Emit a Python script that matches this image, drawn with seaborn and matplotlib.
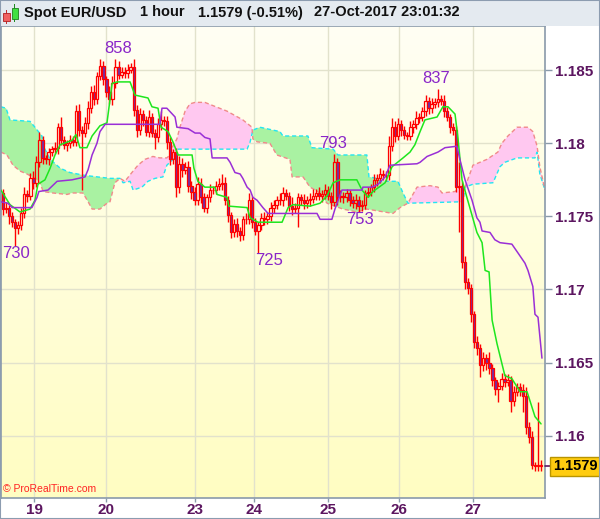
import numpy as np
import matplotlib
matplotlib.use('Agg')
import matplotlib.pyplot as plt
from matplotlib.patches import Rectangle
from matplotlib.colors import LinearSegmentedColormap
from matplotlib.transforms import blended_transform_factory
import seaborn as sns

sns.set_theme(style='white')
plt.rcParams['font.family'] = ['Liberation Sans', 'DejaVu Sans']

# hourly candles, EUR/USD (close prices)
first_open = 1.1766
closes = [
    1.1755, 1.1756, 1.1750, 1.1746, 1.1742, 1.1744, 1.1752, 1.1765, 1.1764, 1.1776,
    1.1773, 1.1787, 1.1802, 1.1790, 1.1789, 1.1794, 1.1796, 1.1797, 1.1811, 1.1802,
    1.1799, 1.1800, 1.1802, 1.1801, 1.1822, 1.1809, 1.1807, 1.1814, 1.1824, 1.1835,
    1.1830, 1.1846, 1.1853, 1.1844, 1.1835, 1.1830, 1.1841, 1.1852, 1.1847, 1.1849,
    1.1848, 1.1850, 1.1852, 1.1823, 1.1809, 1.1820, 1.1816, 1.1808, 1.1818, 1.1807,
    1.1804, 1.1813, 1.1816, 1.1815, 1.1801, 1.1789, 1.1794, 1.1770, 1.1786, 1.1782,
    1.1784, 1.1771, 1.1767, 1.1761, 1.1772, 1.1763, 1.1756, 1.1763, 1.1768, 1.1768,
    1.1771, 1.1772, 1.1773, 1.1761, 1.1751, 1.1739, 1.1745, 1.1740, 1.1737, 1.1748,
    1.1748, 1.1761, 1.1746, 1.1740, 1.1744, 1.1749, 1.1748, 1.1750, 1.1756, 1.1758,
    1.1761, 1.1761, 1.1766, 1.1764, 1.1757, 1.1755, 1.1756, 1.1763, 1.1761, 1.1759,
    1.1761, 1.1762, 1.1764, 1.1766, 1.1764, 1.1765, 1.1768, 1.1764, 1.1760, 1.1787,
    1.1763, 1.1764, 1.1763, 1.1766, 1.1761, 1.1759, 1.1761, 1.1757, 1.1758, 1.1766,
    1.1767, 1.1770, 1.1775, 1.1776, 1.1779, 1.1778, 1.1778, 1.1798, 1.1811, 1.1805,
    1.1813, 1.1809, 1.1806, 1.1805, 1.1811, 1.1813, 1.1817, 1.1818, 1.1822, 1.1829,
    1.1824, 1.1827, 1.1828, 1.1830, 1.1829, 1.1822, 1.1818, 1.1811, 1.1809, 1.1770,
    1.1771, 1.1719, 1.1705, 1.1701, 1.1683, 1.1664, 1.1660, 1.1648, 1.1653, 1.1650,
    1.1646, 1.1638, 1.1632, 1.1634, 1.1639, 1.1637, 1.1638, 1.1624, 1.1630, 1.1633,
    1.1631, 1.1627, 1.1606, 1.1599, 1.1580, 1.1579, 1.1580, 1.1579,
]
# wick lengths above / below the body, in pips
wick_up = [
    3, 4, 2, 3, 2, 3, 4, 5, 3, 4,
    5, 4, 6, 3, 2, 3, 2, 4, 3, 7,
    3, 2, 4, 3, 4, 5, 3, 4, 5, 4,
    5, 3, 5, 3, 2, 4, 5, 6, 4, 3,
    3, 4, 3, 6, 3, 4, 3, 3, 5, 3,
    3, 4, 6, 3, 4, 3, 2, 3, 5, 4,
    3, 4, 3, 3, 5, 4, 3, 2, 4, 3,
    3, 4, 6, 4, 3, 2, 3, 4, 3, 2,
    4, 5, 3, 3, 2, 3, 4, 3, 4, 3,
    3, 5, 4, 3, 3, 6, 3, 3, 2, 4,
    3, 4, 5, 3, 4, 3, 4, 3, 3, 6,
    3, 4, 3, 3, 2, 3, 4, 3, 3, 2,
    3, 2, 4, 3, 4, 3, 3, 7, 6, 4,
    4, 3, 3, 2, 4, 3, 5, 3, 3, 4,
    3, 4, 3, 7, 3, 4, 3, 2, 3, 3,
    16, 3, 4, 3, 3, 2, 4, 3, 4, 3,
    7, 3, 2, 3, 4, 3, 4, 3, 4, 3,
    3, 4, 6, 3, 4, 2, 43, 3,
]
wick_dn = [
    4, 3, 5, 3, 12, 4, 3, 3, 4, 3,
    4, 3, 3, 4, 3, 4, 3, 3, 4, 3,
    3, 4, 3, 3, 3, 4, 39, 3, 4, 3,
    4, 3, 3, 4, 3, 3, 4, 3, 3, 2,
    3, 3, 2, 4, 5, 3, 4, 3, 4, 3,
    8, 3, 4, 3, 5, 4, 3, 7, 4, 5,
    3, 4, 5, 3, 3, 4, 3, 4, 3, 3,
    3, 3, 4, 3, 5, 4, 3, 4, 4, 3,
    3, 3, 4, 3, 15, 3, 4, 3, 3, 4,
    3, 3, 4, 3, 3, 4, 3, 13, 3, 4,
    3, 4, 3, 3, 3, 4, 3, 3, 5, 3,
    5, 3, 4, 3, 4, 3, 4, 4, 3, 3,
    3, 3, 3, 4, 3, 3, 4, 3, 3, 4,
    3, 4, 3, 3, 3, 4, 3, 3, 3, 3,
    4, 3, 3, 3, 3, 4, 3, 4, 3, 3,
    31, 4, 5, 4, 5, 4, 5, 8, 4, 5,
    4, 4, 4, 9, 3, 4, 3, 8, 4, 3,
    4, 11, 5, 4, 3, 3, 3, 3,
]

# Ichimoku lines (bar index, price)
tenkan_idx = [-0.7, 2.3, 5.6, 8.9, 10.5, 11.5, 13.8, 15.5, 17.1, 18.8, 22.7, 24.0, 25.3,
              27.6, 29.3, 31.9, 34.2, 35.9, 37.5, 41.8, 43.4, 47.7, 49.0, 51.0, 52.0,
              54.3, 55.9, 57.6, 62.2, 62.8, 64.1, 66.4, 69.7, 70.4, 73.7, 74.3, 80.3,
              81.3, 83.9, 91.8, 93.8, 95.4, 101.0, 104.3, 106.6, 108.6, 110.9, 116.4,
              118.1, 120.1, 121.7, 125.7, 128.0, 131.6, 133.9, 135.5, 137.2, 138.8,
              142.8, 144.7, 146.4, 148.7, 149.7, 151.0, 152.6, 155.9, 157.6, 158.6,
              159.9, 160.9, 162.5, 165.1, 167.4, 170.1, 172.4, 175.0, 177.0]
tenkan_px = [1.1768, 1.1758, 1.1753, 1.1755, 1.1761, 1.1772, 1.1775, 1.1783, 1.1792,
             1.1799, 1.1802, 1.1806, 1.1797, 1.1797, 1.1805, 1.1812, 1.1814, 1.1841,
             1.1842, 1.1842, 1.1833, 1.1831, 1.1825, 1.1824, 1.1811, 1.1808, 1.1801,
             1.1792, 1.1792, 1.1783, 1.1774, 1.1770, 1.1770, 1.1765, 1.1763, 1.1757,
             1.1756, 1.1749, 1.1746, 1.1746, 1.1756, 1.1758, 1.1757, 1.1759, 1.1764,
             1.1773, 1.1775, 1.1775, 1.1768, 1.1763, 1.1767, 1.1773, 1.1784, 1.1790,
             1.1794, 1.1799, 1.1808, 1.1816, 1.1818, 1.1825, 1.1825, 1.1820, 1.1803,
             1.1775, 1.1763, 1.1739, 1.1732, 1.1713, 1.1712, 1.1679, 1.1663, 1.1641,
             1.1639, 1.1630, 1.1630, 1.1613, 1.1608]
kijun_idx = [-0.7, 1.6, 3.0, 9.5, 11.2, 11.8, 14.8, 17.8, 22.7, 27.0, 28.0, 29.3, 30.9,
             31.9, 33.6, 51.6, 52.3, 53.9, 56.6, 57.2, 60.9, 63.2, 64.8, 66.4, 68.1,
             68.8, 73.7, 74.7, 76.3, 78.0, 78.9, 80.3, 81.3, 82.2, 83.6, 85.5, 87.2,
             103.3, 104.3, 108.2, 109.2, 111.5, 118.1, 118.4, 121.4, 123.4, 125.7,
             127.3, 136.2, 137.2, 139.5, 143.1, 145.4, 149.3, 150.3, 152.0, 154.3,
             155.9, 156.9, 157.6, 160.2, 161.8, 163.5, 167.4, 169.4, 171.7, 172.7,
             174.3, 175.0, 176.0, 177.3]
kijun_px = [1.1760, 1.1759, 1.1756, 1.1756, 1.1763, 1.1767, 1.1768, 1.1774, 1.1775,
            1.1777, 1.1782, 1.1792, 1.1800, 1.1808, 1.1813, 1.1813, 1.1824, 1.1824,
            1.1818, 1.1811, 1.1810, 1.1807, 1.1807, 1.1804, 1.1803, 1.1790, 1.1790,
            1.1787, 1.1780, 1.1779, 1.1776, 1.1770, 1.1768, 1.1763, 1.1761, 1.1756,
            1.1752, 1.1752, 1.1748, 1.1748, 1.1755, 1.1768, 1.1768, 1.1770, 1.1770,
            1.1772, 1.1777, 1.1785, 1.1786, 1.1787, 1.1791, 1.1794, 1.1797, 1.1798,
            1.1789, 1.1775, 1.1761, 1.1749, 1.1746, 1.1740, 1.1739, 1.1734, 1.1732,
            1.1731, 1.1725, 1.1718, 1.1713, 1.1702, 1.1683, 1.1681, 1.1653]
span_a_idx = [-0.7, 1.0, 2.3, 8.9, 10.5, 12.8, 13.8, 15.5, 18.8, 22.0, 27.0, 35.2, 38.5,
              39.5, 41.8, 42.8, 45.7, 47.7, 50.0, 52.6, 53.9, 55.9, 57.6, 80.3, 81.3,
              82.2, 84.5, 91.1, 92.1, 100.3, 101.6, 108.6, 110.2, 119.7, 120.4, 123.0,
              124.0, 129.9, 131.6, 133.2, 151.3, 152.0, 154.6, 161.2, 163.5, 165.1,
              169.1, 175.0, 175.7, 176.6, 178.3]
span_a_px = [1.1825, 1.1824, 1.1816, 1.1815, 1.1811, 1.1805, 1.1796, 1.1789, 1.1783,
             1.1780, 1.1778, 1.1776, 1.1776, 1.1773, 1.1774, 1.1768, 1.1770, 1.1774,
             1.1776, 1.1777, 1.1785, 1.1789, 1.1796, 1.1796, 1.1801, 1.1809, 1.1811,
             1.1808, 1.1805, 1.1805, 1.1797, 1.1796, 1.1792, 1.1792, 1.1777, 1.1776,
             1.1774, 1.1774, 1.1766, 1.1759, 1.1760, 1.1770, 1.1772, 1.1773, 1.1784,
             1.1787, 1.1790, 1.1790, 1.1794, 1.1779, 1.1768]
span_b_idx = [-0.7, 1.3, 3.3, 5.6, 7.9, 10.5, 12.2, 13.2, 16.4, 21.1, 22.7, 26.3, 28.0,
              29.3, 31.9, 34.2, 35.2, 36.8, 38.5, 40.1, 42.4, 44.4, 46.7, 49.3, 51.6,
              53.9, 54.9, 55.9, 57.2, 58.2, 59.9, 61.5, 63.2, 66.4, 68.8, 73.7, 78.9,
              81.9, 82.2, 83.6, 87.8, 90.1, 94.4, 95.1, 98.7, 101.0, 103.6, 106.6,
              109.2, 111.8, 116.4, 119.7, 128.3, 130.6, 133.2, 136.2, 140.5, 143.1,
              144.4, 148.7, 150.3, 152.0, 154.6, 159.2, 162.8, 164.1, 166.1, 169.1,
              172.7, 174.3, 175.7, 176.6, 178.3]
span_b_px = [1.1794, 1.1792, 1.1785, 1.1781, 1.1779, 1.1776, 1.1773, 1.1767, 1.1766,
             1.1765, 1.1766, 1.1766, 1.1760, 1.1755, 1.1755, 1.1759, 1.1760, 1.1773,
             1.1776, 1.1774, 1.1780, 1.1785, 1.1789, 1.1791, 1.1790, 1.1790, 1.1792,
             1.1798, 1.1803, 1.1811, 1.1822, 1.1827, 1.1828, 1.1828, 1.1826, 1.1822,
             1.1816, 1.1811, 1.1803, 1.1801, 1.1800, 1.1792, 1.1789, 1.1777, 1.1777,
             1.1770, 1.1767, 1.1759, 1.1757, 1.1755, 1.1753, 1.1755, 1.1752, 1.1756,
             1.1759, 1.1770, 1.1771, 1.1770, 1.1766, 1.1767, 1.1770, 1.1770, 1.1785,
             1.1789, 1.1794, 1.1800, 1.1805, 1.1811, 1.1811, 1.1808, 1.1798, 1.1784,
             1.1768]

# swing-point labels
peak_labels = ['858', '730', '725', '793', '753', '837']
peak_idx = [37.8, 4.3, 87.5, 108.6, 117.4, 142.4]
peak_price = [1.1858, 1.1730, 1.1725, 1.1793, 1.1753, 1.1837]
peak_high = [True, False, False, True, False, True]

day_labels = ['19', '20', '23', '24', '25', '26', '27']
day_pos = [10.3, 34.0, 63.1, 82.7, 106.8, 130.4, 154.5]
price_ticks = [1.16, 1.165, 1.17, 1.175, 1.18, 1.185]
last_price = 1.1579

W, H = 600, 519
fig = plt.figure(figsize=(W / 100, H / 100), dpi=100)
fig.patch.set_facecolor('white')
ax = fig.add_axes([1 / W, 21 / H, 544 / W, 472.5 / H])

xlim = (-0.66, 178.3)
ylim = (1.15573, 1.18806)

# background gradient
bg = LinearSegmentedColormap.from_list('bg', ['#fffdc2', '#fffff4'])
ax.imshow(np.linspace(0, 1, 256)[:, None], origin='lower', cmap=bg, aspect='auto',
          extent=[xlim[0], xlim[1], ylim[0], ylim[1]], zorder=0)

for p in price_ticks:
    ax.axhline(p, color='#e2e2cc', lw=1, zorder=0.5)
for d in day_pos:
    ax.axvline(d, color='#e2e2cc', lw=1, zorder=0.5)

# cloud
xf = np.linspace(-0.7, 178.3, 3000)
a = np.interp(xf, span_a_idx, span_a_px)
b = np.interp(xf, span_b_idx, span_b_px)
ax.fill_between(xf, a, b, where=a >= b, interpolate=True, color='#a9f2a2', lw=0, zorder=1)
ax.fill_between(xf, a, b, where=a < b, interpolate=True, color='#ffc8f0', lw=0, zorder=1)
sns.lineplot(x=span_a_idx, y=span_a_px, ax=ax, color='#22e6f2', lw=1,
             linestyle=(0, (3, 2)), zorder=2)
sns.lineplot(x=span_b_idx, y=span_b_px, ax=ax, color='#f08a8a', lw=1,
             linestyle=(0, (3, 2)), zorder=2)

# candles
c = np.array(closes)
o = np.r_[first_open, c[:-1]]
top = np.maximum(o, c)
bot = np.minimum(o, c)
hi = top + np.array(wick_up) * 1e-4
lo = bot - np.array(wick_dn) * 1e-4
x = np.arange(len(c))
ax.vlines(x, top, hi, color='#ff0000', lw=1.0, zorder=3)
ax.vlines(x, lo, bot, color='#ff0000', lw=1.0, zorder=3)
up = c >= o
hgt = np.maximum(top - bot, 0.00003)
ax.bar(x[up], hgt[up], bottom=bot[up], width=0.78, facecolor='none',
       edgecolor='#ff0000', lw=0.9, zorder=3)
ax.bar(x[~up], hgt[~up], bottom=bot[~up], width=0.78, facecolor='#7030a8',
       edgecolor='#ff0000', lw=0.9, zorder=3)

# tenkan / kijun
sns.lineplot(x=tenkan_idx, y=tenkan_px, ax=ax, color='#1ee61e', lw=1.1, zorder=5)
sns.lineplot(x=kijun_idx, y=kijun_px, ax=ax, color='#9a2fd6', lw=1.1, zorder=5)

for lab, pi, pp, ish in zip(peak_labels, peak_idx, peak_price, peak_high):
    ax.annotate(lab, (pi, pp), xytext=(0, 2 if ish else 0), textcoords='offset points',
                ha='center', va='bottom' if ish else 'top', fontsize=12,
                color='#8a26c8', zorder=6)

ax.set_xlim(*xlim)
ax.set_ylim(*ylim)

# axes styling
ax.yaxis.tick_right()
ax.set_yticks(price_ticks)
ax.set_yticklabels(['1.16', '1.165', '1.17', '1.175', '1.18', '1.185'],
                   fontweight='bold')
ax.set_xticks(day_pos)
ax.set_xticklabels(day_labels, fontweight='bold')
ax.tick_params(axis='y', right=True, direction='out', length=5, width=1,
               color='#8a9aaa', pad=2, labelsize=11, labelcolor='#5c1660')
ax.tick_params(axis='x', bottom=True, direction='out', length=3, width=1,
               color='#8a9aaa', pad=0.5, labelsize=11, labelcolor='#5c1660')
ax.set_xlabel('')
ax.set_ylabel('')
for side in ['left', 'right', 'bottom', 'top']:
    ax.spines[side].set_visible(True)
    ax.spines[side].set_color('#8a9aaa')
    ax.spines[side].set_linewidth(1.2)

# last price box
tr = blended_transform_factory(ax.transAxes, ax.transData)
ax.plot([1.0, 1.012], [last_price, last_price], transform=tr, color='#5c1660',
        lw=1.2, clip_on=False, zorder=6)
ax.text(1.0145, last_price, '1.1579', transform=tr, ha='left', va='center',
        fontsize=10.5, fontweight='bold', color='black', zorder=7,
        bbox=dict(boxstyle='square,pad=0.18', fc='#ffcc10', ec='#b89400', lw=1))

ax.text(2 / 544, (498 - 489) / 472.5, '\u00a9 ProRealTime.com', transform=ax.transAxes,
        ha='left', va='center', fontsize=7.5, color='#ff2222', zorder=7)

# title bar
fig.patches.append(Rectangle((0, 1 - 25.5 / H), 1, 25.5 / H, transform=fig.transFigure,
                             fc='#e4eaf0', ec='none', zorder=0))


def px_rect(x0, y0, x1, y1, **kw):
    fig.patches.append(Rectangle((x0 / W, 1 - y1 / H), (x1 - x0) / W, (y1 - y0) / H,
                                 transform=fig.transFigure, **kw))


px_rect(6, 10, 6.8, 24, fc='#c03030', ec='none')
px_rect(3, 13.5, 9.6, 21, fc='#f06060', ec='#b02020', lw=0.6)
px_rect(14.4, 4, 15.2, 22, fc='#208a20', ec='none')
px_rect(11.5, 7.7, 18, 19, fc='#40e040', ec='#208020', lw=0.6)

for tx, txt in [(24, 'Spot EUR/USD'), (140.5, '1 hour'), (197.5, '1.1579 (-0.51%)'),
                (314, '27-Oct-2017 23:01:32')]:
    fig.text(tx / W, 1 - 12.5 / H, txt, ha='left', va='center', fontsize=10.5,
             fontweight='bold', color='#111111')

fig.patches.append(Rectangle((0, 0), 1, 1, transform=fig.transFigure, fill=False,
                             ec='#8c9cb0', lw=1.5))

fig.savefig('out.png', dpi=100)
